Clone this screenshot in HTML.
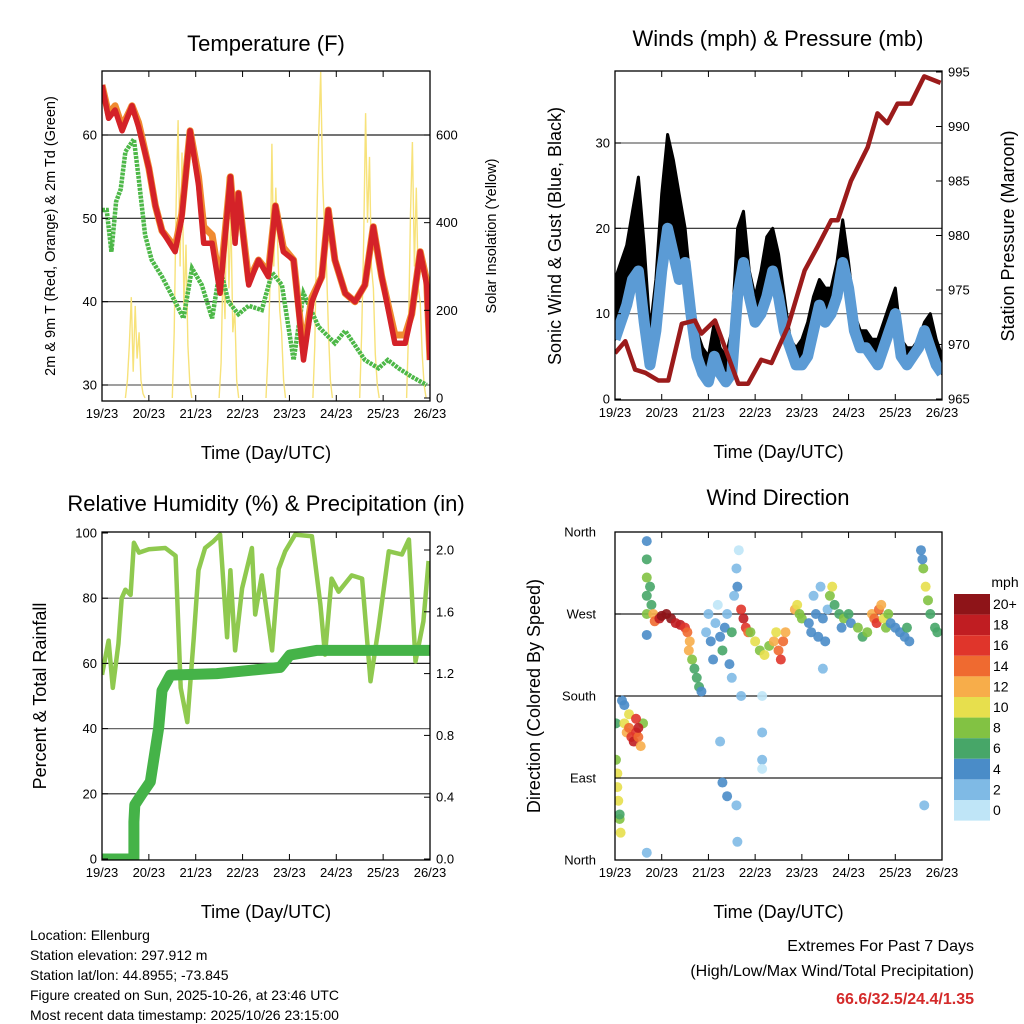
<!DOCTYPE html>
<html><head><meta charset="utf-8"><style>
body{margin:0;background:#fff}
svg{display:block;font-family:"Liberation Sans",sans-serif}
</style></head><body>
<svg id="c" width="1024" height="1024" viewBox="0 0 1024 1024"></svg>
<script>
// ---- data ----
const dayLabels=["19/23","20/23","21/23","22/23","23/23","24/23","25/23","26/23"];
const tempT=[0,0.14,0.28,0.43,0.64,0.78,1.0,1.14,1.28,1.56,1.7,1.88,2.06,2.17,2.35,2.52,2.74,2.84,2.91,3.13,3.34,3.55,3.7,3.87,4.09,4.3,4.48,4.69,4.83,4.97,5.19,5.4,5.61,5.79,5.97,6.25,6.47,6.61,6.79,6.93,7.0];
const tempRed=[66,62,63,60.5,63.5,61,56,51.5,48.5,46,50,60.5,54,47,47,41,55,47,53,42,45,43,51.5,46,45,33,40,43,51,45,41,40,42,49,43,35,35,38.5,46,42,33];
const tempOrange=[66,62.5,63.5,61,63.5,61.5,56,51.5,48.5,46.5,50.5,60.5,55,49,48,42,55,48,53,42.5,45,43.5,51.5,46.5,45,34,40.5,43,51,45,41,40,42,49,43,36,36,38.5,46,42.5,33];
const dewT=[0,0.1,0.2,0.3,0.4,0.5,0.68,0.78,0.92,1.06,1.28,1.56,1.74,1.92,2.13,2.35,2.52,2.7,2.91,3.13,3.41,3.63,3.84,4.09,4.3,4.62,4.97,5.19,5.61,5.9,6.1,6.33,6.61,6.93];
const dewVal=[51,51,46,52,53.5,58,59.5,55,48,45,43,40,38,44,42,38,44,40,38.5,39.5,39,43.5,42,33,41,37,35,36.5,33,32,33,32,31,30];
const solarDays=[[0,40,120,230,60,210,90,150,40,10,0],[0,150,450,634,300,560,200,350,120,30,0],[0,80,300,180,505,250,420,150,200,40,0],[0,100,250,580,300,480,350,200,150,40,0],[0,120,400,600,744,500,380,300,150,40,0],[0,150,350,650,400,550,300,250,100,30,0],[0,150,420,584,300,480,250,220,100,30,0]];
const windT=[0,.125,.25,.375,.5,.625,.75,.875,1,1.125,1.25,1.375,1.5,1.625,1.75,1.875,2,2.125,2.25,2.375,2.5,2.625,2.75,2.875,3,3.125,3.25,3.375,3.5,3.625,3.75,3.875,4,4.125,4.25,4.375,4.5,4.625,4.75,4.875,5,5.125,5.25,5.375,5.5,5.625,5.75,5.875,6,6.125,6.25,6.375,6.5,6.625,6.75,6.875,7];
const windSpd=[7,9,11,14,15,9,4,8,15,20,17,14,16,10,5,3,2,5,3,2,3,12,16,12,9,10,12,15,12,8,6,4,4,5,8,11,9,10,12,16,13,8,6,6,5,4,6,8,10,5,4,5,6,8,6,4,3];
const windGust=[14,16,18,22,26,18,8,14,24,31,28,24,20,13,8,6,5,9,6,5,8,20,22,15,12,15,19,20,17,12,7,6,7,9,12,14,13,13,16,21,16,10,8,8,7,7,9,11,13,7,6,6,7,9,10,7,5];
const presT=[0,.22,.43,.65,.93,1.14,1.43,1.71,1.85,2.14,2.64,2.85,3.13,3.35,3.7,4.06,4.34,4.63,4.77,5.05,5.41,5.62,5.83,6.05,6.33,6.62,6.97];
const presVal=[969.2,970.3,967.7,967.4,966.7,966.7,971.9,972.2,971,972.2,966.4,966.4,968.6,968.3,971.6,976.8,979,981.4,981.4,985,988.1,991.2,990.3,992.1,992.1,994.6,994];
const rhT=[0,.14,.23,.35,.42,.5,.61,.68,.79,1,1.35,1.57,1.68,1.82,1.96,2.06,2.2,2.38,2.52,2.67,2.74,2.84,2.99,3.2,3.27,3.41,3.63,3.77,3.91,4.12,4.48,4.66,4.76,4.9,5.05,5.33,5.55,5.73,5.9,6.12,6.4,6.55,6.69,6.86,6.97];
const rhVal=[56.5,67,52.5,66,80,82.6,81,97,94,95,95.4,93,52.5,42,68,88.6,95.4,97.5,99.5,68,88.6,64,83,95.4,75,87,64,89,94.4,99.5,99,78,62.7,86,82,87,86,54.5,70.9,94.4,93.4,98,60.6,72.9,91.4];
const rainT=[0,.68,.68,.7,.85,1.03,1.21,1.28,1.46,2.45,3.8,4.01,4.58,7];
const rainVal=[0,0,.24,.35,.42,.5,.85,1.09,1.19,1.2,1.24,1.32,1.35,1.35];
const dirT=[0.02,0.05,0.05,0.07,0.1,0.12,0.02,0.1,0.2,0.25,0.3,0.35,0.4,0.45,0.5,0.55,0.6,0.3,0.2,0.15,0.45,0.5,0.68,0.68,0.68,0.68,0.68,0.68,0.68,0.75,0.78,0.82,0.85,0.95,1.0,1.1,1.2,1.3,1.4,1.5,1.55,1.6,1.58,1.65,1.7,1.75,1.8,1.85,1.95,2.0,2.05,2.1,2.15,2.2,2.25,2.3,2.35,2.4,2.45,2.5,2.55,2.6,2.65,2.62,2.5,2.25,2.3,2.4,2.6,2.62,2.7,2.7,2.75,2.8,2.85,2.9,3.0,3.1,3.2,3.3,3.4,3.5,3.55,3.6,3.65,3.45,3.15,3.15,3.15,3.15,3.85,3.9,3.95,4.0,4.15,4.2,4.25,4.3,4.35,4.4,4.45,4.5,4.55,4.45,4.6,4.65,4.7,4.8,4.9,5.0,5.05,4.85,5.2,5.3,5.4,5.5,5.55,5.6,5.65,5.7,5.75,5.8,5.85,5.9,6.0,6.1,6.2,6.25,6.3,6.55,6.6,6.65,6.7,6.75,6.85,6.9,6.62,6.58];
const dirVal=[110,95,80,65,45,30,150,50,150,140,145,135,130,140,135,125,150,160,170,175,155,145,350,330,310,290,270,247,8,300,280,270,262,265,268,270,265,260,258,255,250,240,230,220,210,200,190,185,250,270,240,220,260,280,245,230,255,270,215,200,290,320,340,300,250,130,85,70,60,20,180,275,265,255,250,250,240,230,225,235,240,230,220,240,250,250,180,140,110,100,275,280,270,265,260,250,290,270,245,300,265,240,275,210,290,300,280,270,265,270,260,255,255,245,250,270,265,260,275,280,265,255,270,260,255,250,245,255,240,340,320,300,285,270,255,250,60,330];
const dirSpd=[8,10,9,10,8,10,6,6,10,12,14,16,18,16,14,12,8,10,4,4,16,18,4,6,8,6,8,4,2,6,6,12,14,18,20,20,20,18,18,16,14,12,12,8,6,6,6,4,2,2,4,4,2,0,4,6,4,2,4,2,2,2,0,4,6,2,4,4,2,2,2,16,18,16,14,8,10,8,10,8,12,14,16,14,12,10,0,2,2,0,12,10,8,8,4,4,2,4,4,2,4,4,2,2,8,10,6,6,8,6,4,4,8,6,8,12,14,16,14,12,10,8,8,4,4,4,4,6,4,4,8,10,8,6,6,6,2,4];
const cbLabels=["20+","18","16","14","12","10","8","6","4","2","0"];
const cbColors=["#8e1418","#c01d22","#e0352b","#ef6a30","#f7ad4a","#e7df4d","#82c243","#47a668","#4a8cc8","#7fbae5","#bfe5f7"];

// ---- helpers ----
const NS="http://www.w3.org/2000/svg";
const svg=document.getElementById('c');
const defs=document.createElementNS(NS,'defs');svg.appendChild(defs);
function mk(tag,attrs,parent){const e=document.createElementNS(NS,tag);for(const k in attrs)e.setAttribute(k,attrs[k]);(parent||svg).appendChild(e);return e;}
function txt(s,x,y,size,anchor,parent,rot){const e=mk('text',{x:x,y:y,'font-size':size,'text-anchor':anchor||'middle',fill:'#000'},parent);if(rot)e.setAttribute('transform','rotate(-90 '+x+' '+y+')');e.textContent=s;return e;}
function lin(d0,d1,p0,p1){return v=>p0+(v-d0)/(d1-d0)*(p1-p0);}
function pathOf(ts,vs,fx,fy){return ts.map((t,i)=>(i?'L':'M')+fx(t).toFixed(1)+' '+fy(vs[i]).toFixed(1)).join('');}
function speedColor(s){const i=Math.min(10,Math.round(s/2));return cbColors[10-i];}
let clipN=0;
function frame(x0,y0,x1,y1,name){
  const g=mk('g',{});
  
  
  const id='clp'+(clipN++);
  const cp=mk('clipPath',{id:id},defs);
  mk('rect',{x:x0,y:y0,width:x1-x0,height:y1-y0},cp);
  g.plot=mk('g',{'clip-path':'url(#'+id+')'},g);
  
  
  return g;
}
function xAxis(g,x0,x1,y0,y1){
  const fx=lin(0,7,x0,x1);
  dayLabels.forEach((d,i)=>{
    const x=fx(i);
    mk('line',{x1:x,y1:y1,x2:x,y2:y1-6,stroke:'#000','stroke-width':1},g);
    mk('line',{x1:x,y1:y0,x2:x,y2:y0+6,stroke:'#000','stroke-width':1},g);
    const t=txt(d,x,y1+17,13,'middle',g);
    
    
  });
  const tt=txt('Time (Day/UTC)',(x0+x1)/2,y1+58,18,'middle',g);
  
  
  return fx;
}
function border(g,x0,y0,x1,y1){mk('rect',{x:x0,y:y0,width:x1-x0,height:y1-y0,fill:'none',stroke:'#000','stroke-width':1.3},g);}
function hgrid(g,x0,x1,y,col){mk('line',{x1:x0,y1:y,x2:x1,y2:y,stroke:col||'#222','stroke-width':1.2},g);}
function yTicks(g,vals,fy,x,side,fmt){
  vals.forEach(v=>{const y=fy(v);
    mk('line',{x1:x,y1:y,x2:x+(side<0?6:-6),y2:y,stroke:'#000'},g);
    const t=txt(fmt?fmt(v):String(v),side<0?x-5:x+6,y+4.5,13,side<0?'end':'start',g);
    
    
  });
}

// ===== Panel 1: Temperature =====
(function(){
  const X0=102,X1=430,Y0=71,Y1=401;
  const g=frame(X0,Y0,X1,Y1,'temperature-panel');const P=g.plot;
  const fy=lin(30,60,385,135), fs=lin(0,600,398,135);
  const fx=xAxis(g,X0,X1,Y0,Y1);
  [30,40,50,60].forEach(v=>hgrid(P,X0,X1,fy(v),v==30?'#666':'#222'));
  solarDays.forEach((arr,d)=>{
    const ts=arr.map((_,i)=>d+0.5+i/24);
    const p=mk('path',{d:pathOf(ts,arr,fx,fs),fill:'none',stroke:'#f7e27a','stroke-width':1.4},P);
    
    
  });
  const pd=mk('path',{d:pathOf(dewT,dewVal,fx,fy),fill:'none',stroke:'#4db848','stroke-width':4.5,'stroke-dasharray':'3 1'},P);
  
  
  const po=mk('path',{d:pathOf(tempT,tempOrange,fx,fy),fill:'none',stroke:'#f08a30','stroke-width':7,'stroke-linejoin':'round'},P);
  
  
  const pr=mk('path',{d:pathOf(tempT,tempRed,fx,fy),fill:'none',stroke:'#d42228','stroke-width':5.5,'stroke-linejoin':'round'},P);
  
  
  border(g,X0,Y0,X1,Y1);
  yTicks(g,[30,40,50,60],fy,X0,-1);
  yTicks(g,[0,200,400,600],fs,X1,1);
  const t1=txt('Temperature (F)',266,51,22,'middle',g);
  const t2=txt('2m & 9m T (Red, Orange) & 2m Td (Green)',55,236,14.5,'middle',g,true);
  const t3=txt('Solar Insolation (Yellow)',496,236,14.5,'middle',g,true);
})();

// ===== Panel 2: Winds =====
(function(){
  const X0=615,X1=942,Y0=71,Y1=400;
  const g=frame(X0,Y0,X1,Y1,'winds-panel');const P=g.plot;
  const fy=lin(0,30,399,143), fp=lin(965,995,399,72);
  const fx=xAxis(g,X0,X1,Y0,Y1);
  [10,20,30].forEach(v=>hgrid(P,X0,X1,fy(v),v==20?'#222':'#666'));
  let d='M'+windT.map((t,i)=>fx(t).toFixed(1)+' '+fy(windGust[i]).toFixed(1)).join('L');
  for(let i=windT.length-1;i>=0;i--)d+='L'+fx(windT[i]).toFixed(1)+' '+fy(windSpd[i]).toFixed(1);
  const gb=mk('path',{d:d+'Z',fill:'#000',stroke:'#000','stroke-width':3,'stroke-linejoin':'round'},P);
  
  
  const ws=mk('path',{d:pathOf(windT,windSpd,fx,fy),fill:'none',stroke:'#5b9bd5','stroke-width':11,'stroke-linejoin':'round'},P);
  
  
  const pp=mk('path',{d:pathOf(presT,presVal,fx,fp),fill:'none',stroke:'#9b1b1b','stroke-width':4.5,'stroke-linejoin':'round'},P);
  
  
  border(g,X0,Y0,X1,Y1);
  yTicks(g,[0,10,20,30],fy,X0,-1);
  yTicks(g,[965,970,975,980,985,990,995],fp,X1,1);
  const t1=txt('Winds (mph) & Pressure (mb)',778,46,22,'middle',g);
  const t2=txt('Sonic Wind & Gust (Blue, Black)',561,236,18,'middle',g,true);
  const t3=txt('Station Pressure (Maroon)',1014,236,18,'middle',g,true);
})();

// ===== Panel 3: RH & Precip =====
(function(){
  const X0=102,X1=430,Y0=532,Y1=860;
  const g=frame(X0,Y0,X1,Y1,'humidity-panel');const P=g.plot;
  const fy=lin(0,100,859,533), fr=lin(0,2,859,550);
  const fx=xAxis(g,X0,X1,Y0,Y1);
  [20,40,60,80].forEach(v=>hgrid(P,X0,X1,fy(v),(v==40||v==80)?'#666':'#222'));
  const rh=mk('path',{d:pathOf(rhT,rhVal,fx,fy),fill:'none',stroke:'#8fc94f','stroke-width':4.5,'stroke-linejoin':'round'},P);
  
  
  const rn=mk('path',{d:pathOf(rainT,rainVal,fx,fr),fill:'none',stroke:'#45b348','stroke-width':11,'stroke-linejoin':'round','stroke-linecap':'round'},P);
  
  
  border(g,X0,Y0,X1,Y1);
  yTicks(g,[0,20,40,60,80,100],fy,X0,-1);
  yTicks(g,[0,0.4,0.8,1.2,1.6,2.0],fr,X1,1,v=>v.toFixed(1));
  const t1=txt('Relative Humidity (%) & Precipitation (in)',266,511,22,'middle',g);
  const t2=txt('Percent & Total Rainfall',46,696,18,'middle',g,true);
})();

// ===== Panel 4: Wind direction =====
(function(){
  const X0=615,X1=942,Y0=532,Y1=860;
  const g=frame(X0,Y0,X1,Y1,'wind-direction-panel');const P=g.plot;
  const fy=lin(0,360,860,532);
  const fx=xAxis(g,X0,X1,Y0,Y1);
  [90,180,270].forEach(v=>hgrid(P,X0,X1,fy(v),'#222'));
  dirT.forEach((t,i)=>{
    const c=mk('circle',{cx:fx(t),cy:fy(dirVal[i]),r:5,fill:speedColor(dirSpd[i]),'fill-opacity':0.9},P);
    
    
  });
  border(g,X0,Y0,X1,Y1);
  const dirNames=["North","East","South","West","North"];
  dirNames.forEach((n,i)=>{const y=fy(i*90);
    mk('line',{x1:X0,y1:y,x2:X0+6,y2:y,stroke:'#000'},g);
    const t=txt(n,X0-19,y+4.5,13,'end',g);});
  const t1=txt('Wind Direction',778,505,22,'middle',g);
  const t2=txt('Direction (Colored By Speed)',540,696,18,'middle',g,true);
  const cb=mk('g',{},g);
  
  
  const tm=txt('mph',1005,587,14,'middle',cb);
  const bh=20.6;
  cbColors.forEach((col,i)=>{
    mk('rect',{x:954,y:594+i*bh,width:36,height:bh,fill:col},cb);
    const t=txt(cbLabels[i],993,594+i*bh+15,14,'start',cb);
    
    
  });
})();

// ===== footer =====
const foot=["Location: Ellenburg","Station elevation: 297.912 m","Station lat/lon: 44.8955; -73.845","Figure created on Sun, 2025-10-26, at 23:46 UTC","Most recent data timestamp: 2025/10/26 23:15:00"];
foot.forEach((s,i)=>{const t=txt(s,30,940+i*20,14,'start');});
let e1=txt('Extremes For Past 7 Days',974,951,16,'end');
let e2=txt('(High/Low/Max Wind/Total Precipitation)',974,976,16,'end');
let e3=txt('66.6/32.5/24.4/1.35',974,1004,16,'end');e3.setAttribute('fill','#d42a2a');e3.setAttribute('font-weight','bold');
</script>
</body></html>
